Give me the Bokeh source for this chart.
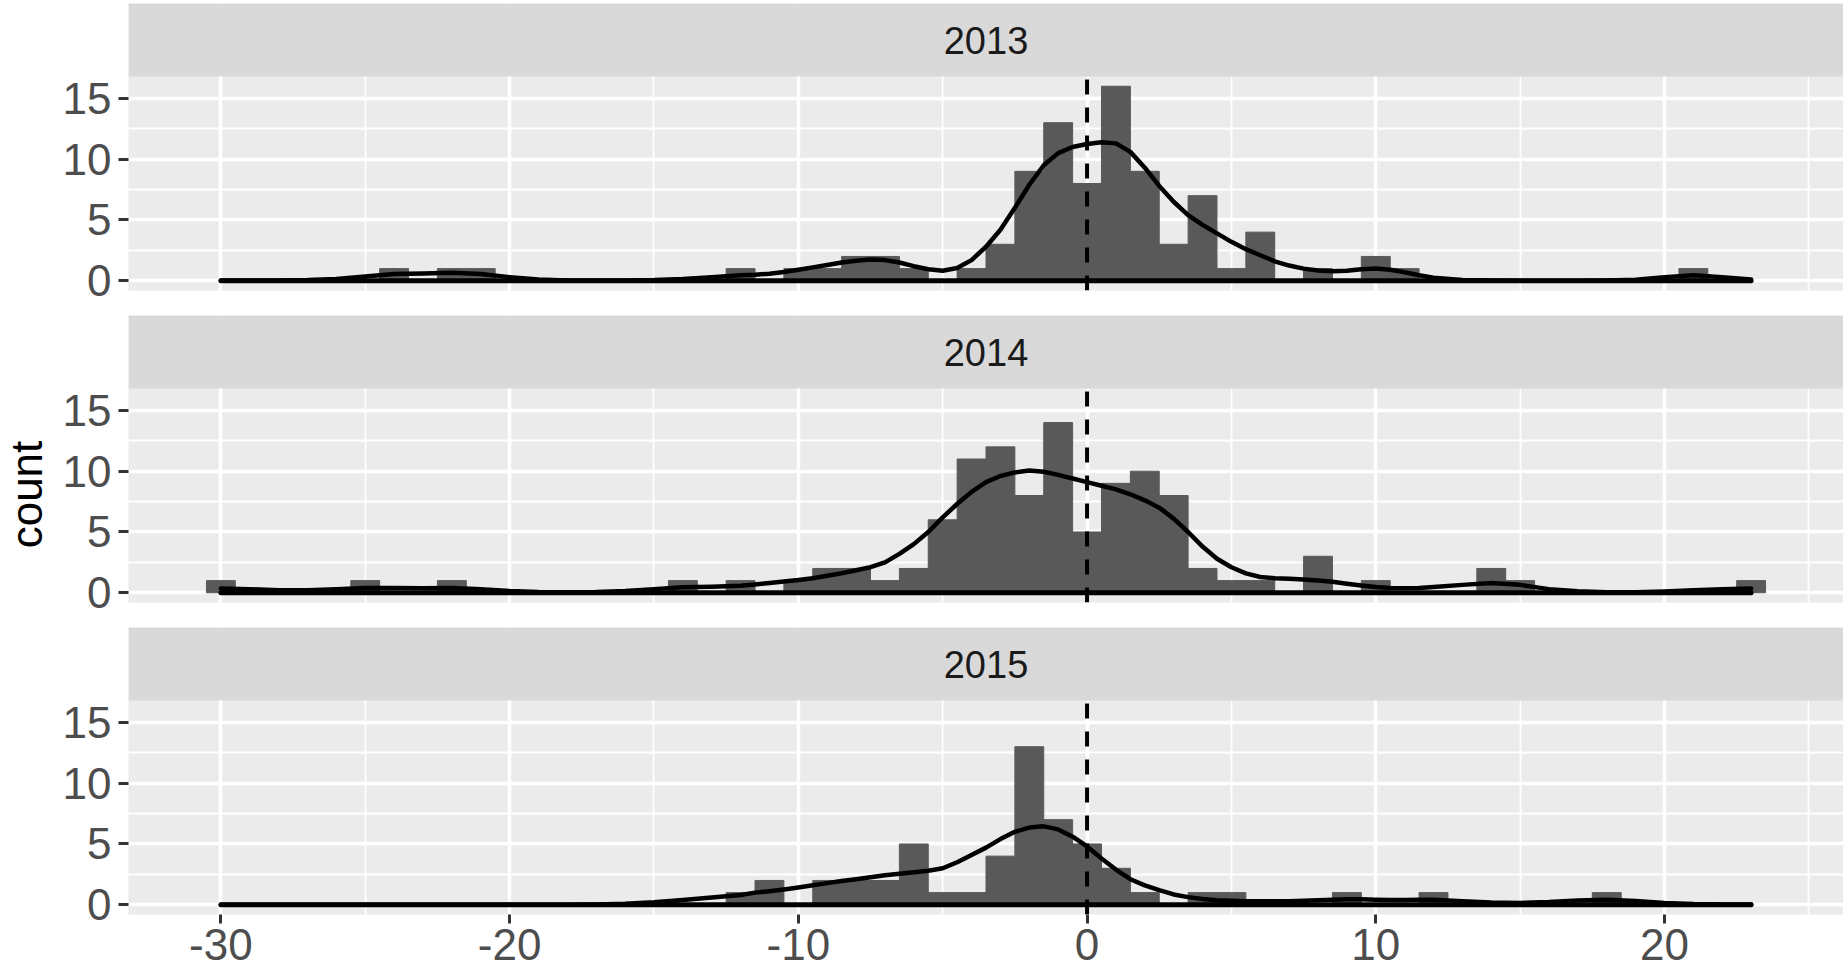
import math
from bokeh.plotting import figure
from bokeh.layouts import column, row
from bokeh.models import Range1d, FixedTicker, ColumnDataSource, BoxAnnotation, Label
from bokeh.core.properties import value
from bokeh.embed import file_html
from bokeh.resources import INLINE

# ---------------- data ----------------
years = ["2013", "2014", "2015"]

bins = [-30, -29, -28, -27, -26, -25, -24, -23, -22, -21,
        -20, -19, -18, -17, -16, -15, -14, -13, -12, -11,
        -10, -9, -8, -7, -6, -5, -4, -3, -2, -1,
        0, 1, 2, 3, 4, 5, 6, 7, 8, 9,
        10, 11, 12, 13, 14, 15, 16, 17, 18, 19,
        20, 21, 22, 23]

counts_2013 = [0, 0, 0, 0, 0, 0, 1, 0, 1, 1,
               0, 0, 0, 0, 0, 0, 0, 0, 1, 0,
               1, 1, 2, 2, 1, 0, 1, 3, 9, 13,
               8, 16, 9, 3, 7, 1, 4, 0, 1, 0,
               2, 1, 0, 0, 0, 0, 0, 0, 0, 0,
               0, 1, 0, 0]

counts_2014 = [1, 0, 0, 0, 0, 1, 0, 0, 1, 0,
               0, 0, 0, 0, 0, 0, 1, 0, 1, 0,
               1, 2, 2, 1, 2, 6, 11, 12, 8, 14,
               5, 9, 10, 8, 2, 1, 1, 0, 3, 0,
               1, 0, 0, 0, 2, 1, 0, 0, 0, 0,
               0, 0, 0, 1]

counts_2015 = [0, 0, 0, 0, 0, 0, 0, 0, 0, 0,
               0, 0, 0, 0, 0, 0, 0, 0, 1, 2,
               0, 2, 2, 2, 5, 1, 1, 4, 13, 7,
               5, 3, 1, 0, 1, 1, 0, 0, 0, 1,
               0, 0, 1, 0, 0, 0, 0, 0, 1, 0,
               0, 0, 0, 0]

dens_x = [-30, -29, -28, -27, -26, -25, -24, -23, -22, -21, -20, -19, -18, -17, -16, -15, -14, -13,
          -12, -11.5, -11, -10.5, -10, -9.5, -9, -8.5, -8, -7.5, -7, -6.5, -6, -5.5, -5, -4.5,
          -4, -3.5, -3, -2.5, -2, -1.5, -1, -0.5,
          0, 0.5, 1, 1.5, 2, 2.5, 3, 3.5, 4, 4.5, 5, 5.5, 6, 6.5, 7, 7.5, 8, 8.5, 9, 9.5,
          10, 10.5, 11, 11.5, 12,
          13, 14, 15, 16, 17, 18, 19, 20, 21, 22, 23]

dens_2013 = [0.02, 0.02, 0.03, 0.06, 0.15, 0.35, 0.55, 0.6, 0.65, 0.55, 0.3, 0.1, 0.03, 0.02, 0.03, 0.06, 0.15, 0.3,
             0.45, 0.5, 0.58, 0.72, 0.9, 1.1, 1.3, 1.5, 1.65, 1.75, 1.7, 1.5, 1.2, 0.95, 0.83, 1.05,
             1.7, 2.8, 4.2, 6.0, 7.9, 9.5, 10.5, 11.0,
             11.25, 11.4, 11.3, 10.6, 9.3, 7.8, 6.5, 5.4, 4.6, 3.9, 3.2, 2.6, 2.1, 1.6, 1.25, 1.0, 0.85, 0.78, 0.82, 0.95,
             1.0, 0.9, 0.7, 0.45, 0.25,
             0.07, 0.02, 0.01, 0.01, 0.01, 0.02, 0.08, 0.3, 0.45, 0.3, 0.1]

dens_2014 = [0.35, 0.3, 0.2, 0.2, 0.3, 0.4, 0.4, 0.38, 0.4, 0.3, 0.15, 0.07, 0.05, 0.07, 0.15, 0.3, 0.45, 0.5,
             0.58, 0.68, 0.8, 0.93, 1.05, 1.2, 1.4, 1.6, 1.85, 2.1, 2.5, 3.2, 4.0, 5.0, 6.2, 7.3,
             8.3, 9.1, 9.6, 9.9, 10.05, 9.95, 9.7, 9.4,
             9.1, 8.8, 8.5, 8.1, 7.6, 7.0, 6.1, 5.0, 3.8, 2.8, 2.1, 1.6, 1.3, 1.2, 1.15, 1.1, 1.0, 0.9, 0.75, 0.6,
             0.48, 0.4, 0.38, 0.4, 0.48,
             0.65, 0.8, 0.65, 0.3, 0.12, 0.05, 0.05, 0.1, 0.2, 0.3, 0.35]

dens_2015 = [0.0, 0.0, 0.0, 0.0, 0.0, 0.0, 0.0, 0.0, 0.0, 0.0, 0.0, 0.0, 0.01, 0.02, 0.08, 0.2, 0.4, 0.6,
             0.8, 1.0, 1.12, 1.26, 1.42, 1.6, 1.78, 1.95, 2.1, 2.27, 2.42, 2.55, 2.68, 2.8, 3.0, 3.5,
             4.1, 4.7, 5.4, 6.0, 6.35, 6.45, 6.2, 5.6,
             4.8, 3.8, 2.9, 2.1, 1.6, 1.2, 0.85, 0.63, 0.48, 0.38, 0.33, 0.3, 0.28, 0.28, 0.3, 0.33, 0.38, 0.42, 0.45, 0.45,
             0.42, 0.4, 0.4, 0.42, 0.42,
             0.3, 0.18, 0.15, 0.22, 0.35, 0.42, 0.32, 0.15, 0.06, 0.03, 0.02]

ref_line_x = 0
y_title = "count"

x_ticks = [-30, -20, -10, 0, 10, 20]
x_minor = [-25, -15, -5, 5, 15, 25]
y_ticks = [0, 5, 10, 15]
y_minor = [2.5, 7.5, 12.5]

counts_all = [counts_2013, counts_2014, counts_2015]
dens_all = [dens_2013, dens_2014, dens_2015]

# ---------------- style / layout ----------------
FONT = "Liberation Sans"
PAGE_W = 1843
LABEL_W = 56           # narrow column that holds the "count" title
W = PAGE_W - LABEL_W   # width of each facet figure
LEFT = 128 - LABEL_W   # left border inside the facet figure (frame starts at page x=128)
TOP_PAD = 3
STRIP_H = 73
FRAME_H = 214          # data panel height (px)
GAP = 25
AXIS_H = 65
X_RANGE = (-33.2, 26.2)
Y_LO, Y_HI = -0.8, 16.8
BAR_COLOR = "#595959"

px_per_y = FRAME_H / (Y_HI - Y_LO)
strip_units = STRIP_H / px_per_y


def style_axis(ax, tick_out, standoff, overrides=None):
    ax.axis_line_color = None
    ax.major_tick_line_color = "#333333"
    ax.major_tick_line_width = 3
    ax.major_tick_out = tick_out
    ax.major_tick_in = 0
    ax.minor_tick_line_color = None
    ax.major_label_text_font = FONT
    ax.major_label_text_font_size = "44px"
    ax.major_label_text_color = "#4D4D4D"
    ax.major_label_standoff = standoff
    if overrides:
        ax.major_label_overrides = overrides


def make_panel(year, counts, dens, top_pad, bottom_axis):
    border_b = AXIS_H if bottom_axis else GAP
    p = figure(width=W, height=top_pad + STRIP_H + FRAME_H + border_b,
               x_range=Range1d(*X_RANGE), y_range=Range1d(Y_LO, Y_HI + strip_units),
               output_backend="svg", toolbar_location=None, tools="",
               x_axis_location="below" if bottom_axis else None,
               min_border_left=LEFT, min_border_right=0, min_border_top=top_pad,
               min_border_bottom=border_b,
               background_fill_color="#EBEBEB", border_fill_color="white",
               outline_line_color=None)
    p.xgrid.ticker = FixedTicker(ticks=x_ticks, minor_ticks=x_minor)
    p.ygrid.ticker = FixedTicker(ticks=y_ticks, minor_ticks=y_minor)
    for g in (p.xgrid, p.ygrid):
        g.grid_line_color = "white"
        g.grid_line_width = 3.5
        g.minor_grid_line_color = "white"
        g.minor_grid_line_width = 1.8

    p.yaxis.ticker = FixedTicker(ticks=y_ticks, minor_ticks=y_minor)
    style_axis(p.yaxis[0], tick_out=10, standoff=7)
    if bottom_axis:
        p.xaxis.ticker = FixedTicker(ticks=x_ticks, minor_ticks=x_minor)
        style_axis(p.xaxis[0], tick_out=9, standoff=5,
                   overrides={t: str(t) for t in x_ticks})

    nz = [(b, c) for b, c in zip(bins, counts) if c > 0]
    src = ColumnDataSource(dict(x=[b for b, _ in nz], top=[c for _, c in nz]))
    p.vbar(x="x", width=1, top="top", bottom=0, source=src,
           fill_color=BAR_COLOR, line_color=BAR_COLOR, line_width=1)
    p.line(x=dens_x, y=dens, line_color="black", line_width=4.5,
           line_join="round", line_cap="round")
    p.line(x=[dens_x[0], dens_x[-1]], y=[0, 0], line_color="black", line_width=5,
           line_cap="round")
    # dashed reference line at x = 0, over the data panel only
    p.segment(x0=[ref_line_x], y0=[Y_LO], x1=[ref_line_x], y1=[Y_HI],
              line_color="black", line_width=4, line_dash="15 13")

    # facet strip (grey band on top of the panel) and its label
    p.add_layout(BoxAnnotation(bottom=Y_HI, fill_color="#D9D9D9", fill_alpha=1.0,
                               line_color=None, level="overlay"))
    p.add_layout(Label(x=(X_RANGE[0] + X_RANGE[1]) / 2, y=Y_HI + strip_units / 2,
                       text=year, text_align="center", text_baseline="middle",
                       text_font=FONT, text_font_size="38px", text_color="#1A1A1A",
                       level="overlay"))
    return p


panels = []
for i, yr in enumerate(years):
    panels.append(make_panel(yr, counts_all[i], dens_all[i],
                             top_pad=(TOP_PAD if i == 0 else 0),
                             bottom_axis=(i == len(years) - 1)))

total_h = sum(p.height for p in panels)

# y-axis title column
lab = figure(width=LABEL_W, height=total_h, x_range=Range1d(0, LABEL_W),
             y_range=Range1d(0, total_h), output_backend="svg", toolbar_location=None,
             tools="", x_axis_location=None, y_axis_location=None,
             min_border=0, background_fill_color="white", border_fill_color="white",
             outline_line_color=None)
lab.xgrid.visible = False
lab.ygrid.visible = False
lab.text(x=[25.5], y=[total_h - 494], text=[y_title], angle=math.pi / 2,
         text_align="center", text_baseline="middle",
         text_font=value(FONT), text_font_size="44px", text_color="black")

layout = row(lab, column(*panels, spacing=0), spacing=0)

with open("out.html", "w") as f:
    f.write(file_html(layout, INLINE, title="histograms"))
